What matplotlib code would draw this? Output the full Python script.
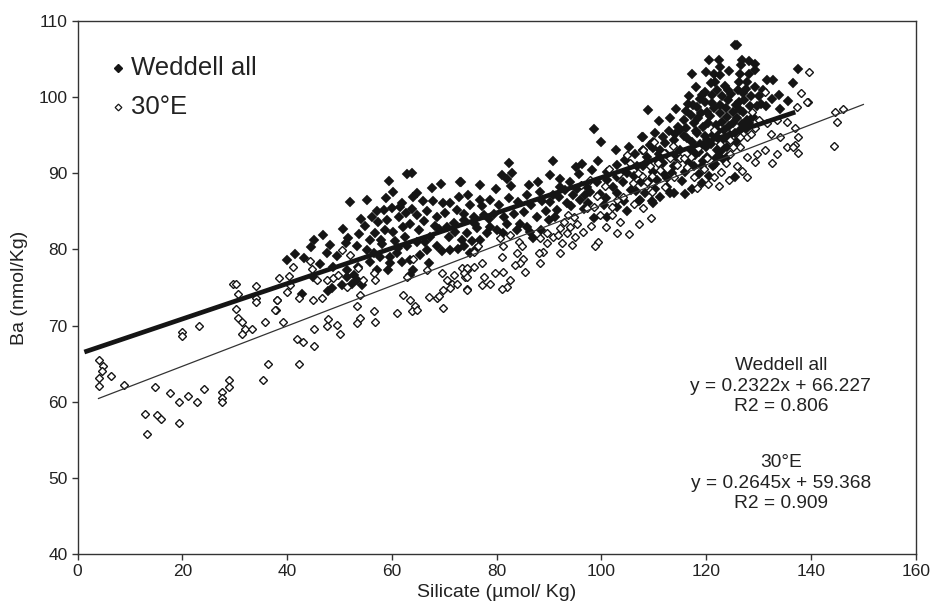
import matplotlib
matplotlib.use("Agg")
import matplotlib.pyplot as plt
import numpy as np

plt.rcParams["font.family"] = ["Liberation Sans", "DejaVu Sans"]

# ---- data (silicate, Ba) ----
WEDDELL_PTS = [
    (40.0, 78.6), (42.8, 74.2), (44.6, 80.3), (45.2, 81.2), (47.6, 79.5), (47.9, 74.6),
    (48.5, 75.0), (51.7, 81.5), (51.3, 80.9), (52.0, 86.2), (54.8, 83.1), (56.7, 82.1),
    (59.5, 89.0), (62.9, 89.9), (63.8, 90.1), (67.7, 88.1), (73.2, 88.8),
    (51.4, 76.4), (52.4, 75.5), (53.3, 76.0), (54.3, 75.3), (50.4, 75.3), (52.7, 76.6),
    (57.1, 85.0), (58.4, 85.2), (60.0, 85.4), (61.6, 85.6), (61.9, 86.1), (59.0, 83.9),
    (58.7, 82.6), (60.3, 82.3), (62.2, 83.0), (63.5, 83.4), (64.8, 84.5), (64.1, 86.9),
    (64.8, 87.4), (66.7, 85.0), (68.6, 84.3), (69.8, 86.1), (71.1, 86.1), (72.4, 85.2),
    (73.7, 83.9), (70.5, 83.0), (72.1, 82.3), (73.4, 81.2), (71.1, 79.9), (68.6, 80.4),
    (66.7, 79.9), (65.4, 79.3), (63.5, 78.6), (64.8, 81.0), (62.9, 80.4), (60.9, 79.5),
    (59.7, 79.0), (57.8, 79.0), (56.5, 79.5), (55.8, 78.4), (59.3, 77.3), (59.7, 78.2),
    (61.9, 78.4), (63.5, 76.6), (64.1, 77.3), (53.3, 80.4), (55.2, 79.9), (53.6, 77.7),
    (51.4, 77.3), (48.8, 77.7), (57.1, 77.3),
    (108.9, 98.3), (98.6, 95.8), (100.0, 94.1), (107.7, 94.8), (109.8, 94.1), (82.3, 91.4),
    (81.0, 89.8), (82.0, 89.2), (82.9, 90.1), (90.7, 91.6), (86.1, 88.5), (90.1, 89.8),
    (92.1, 89.2), (96.3, 91.2), (98.2, 90.4), (101.0, 90.2), (103.0, 91.1), (104.5, 91.8),
    (106.4, 92.6), (107.9, 93.1), (109.9, 93.3), (73.0, 88.9), (76.8, 88.5), (74.9, 85.8),
    (78.8, 86.5), (82.3, 86.7), (85.8, 87.1), (88.3, 87.6), (92.1, 88.2), (94.0, 88.9),
    (95.3, 88.0), (97.2, 88.2), (99.1, 88.9), (101.0, 89.1), (103.0, 89.5), (104.9, 90.0),
    (106.8, 90.9), (108.7, 91.5), (110.6, 91.7), (73.7, 84.7), (75.6, 84.3), (77.5, 84.5),
    (79.5, 84.6), (81.4, 84.3), (83.3, 84.6), (78.8, 83.0), (76.2, 82.8), (74.3, 82.1),
    (76.8, 81.2), (73.7, 80.4), (74.9, 79.5), (81.3, 82.1), (83.9, 82.5), (85.8, 83.0),
    (87.7, 84.3), (89.9, 83.9), (91.5, 85.2), (93.4, 86.1), (96.0, 86.5), (97.5, 86.1),
    (98.5, 84.1), (101.0, 84.3), (104.9, 85.0), (107.1, 86.3), (109.6, 86.3), (103.0, 87.4),
    (87.0, 81.5), (84.5, 83.4), (76.8, 86.5), (96.9, 87.1), (97.9, 87.6),
    (125.4, 106.8), (125.9, 106.8), (120.6, 104.9), (122.4, 104.9), (126.8, 104.9),
    (128.1, 104.7), (129.4, 104.4), (122.7, 104.0), (122.7, 102.9), (117.3, 103.1),
    (126.7, 104.2), (126.5, 103.1), (128.1, 103.1), (129.4, 103.6), (137.6, 103.7),
    (131.6, 102.3), (132.7, 102.3), (136.5, 101.8), (121.7, 102.0), (124.2, 100.9),
    (122.0, 100.9), (126.2, 102.0), (127.1, 100.5), (129.4, 101.4), (119.8, 100.7),
    (118.8, 99.8), (121.1, 100.3), (132.5, 99.8), (133.8, 100.3), (130.0, 100.1),
    (115.7, 97.0), (117.0, 97.7), (117.6, 96.6), (115.0, 95.7), (113.8, 94.4), (111.8, 94.8),
    (108.0, 94.8), (111.2, 93.1), (108.7, 92.2), (108.0, 90.9), (109.9, 90.2), (111.8, 91.3),
    (109.9, 86.1), (113.8, 87.4), (116.0, 87.3), (119.2, 88.7), (117.3, 88.0), (125.5, 89.5),
    (112.5, 88.2), (111.2, 86.9), (113.1, 87.4), (107.4, 86.5),
    (124.0, 97.4), (123.3, 95.7), (125.2, 96.6), (126.5, 95.7), (126.5, 98.3), (127.8, 97.0),
    (120.1, 94.4), (122.0, 94.8), (120.1, 92.2), (122.0, 93.1), (124.0, 93.5), (117.0, 93.1),
    (118.2, 95.3), (115.0, 93.1), (121.3, 90.9), (117.6, 90.9), (113.8, 90.9), (123.3, 91.7),
    (121.1, 99.2), (122.7, 99.0), (120.1, 98.1), (124.1, 99.6), (119.2, 100.3),
    (118.5, 97.2), (119.4, 96.1), (120.8, 97.5), (121.9, 96.3), (122.6, 97.9), (123.8, 98.6),
    (125.1, 98.0), (119.7, 94.9), (121.2, 95.0), (122.9, 94.3), (124.6, 95.0), (125.7, 94.1),
    (118.9, 93.8), (116.4, 94.6), (117.9, 92.4), (119.3, 91.6), (121.8, 92.0), (123.1, 93.0),
    (114.7, 96.1), (116.2, 96.0), (112.9, 95.6), (110.3, 95.3), (109.2, 93.7), (112.4, 92.6),
    (114.3, 92.2), (116.8, 91.4), (118.7, 89.9), (120.5, 89.6), (115.3, 89.0), (110.6, 89.1),
    (126.9, 96.5), (128.3, 98.9), (127.2, 99.6), (123.5, 101.5), (120.9, 101.8), (118.3, 98.7),
    (116.6, 99.1), (114.2, 98.4), (113.1, 97.3), (111.0, 96.9), (124.8, 100.4), (126.0, 101.0),
    (128.6, 100.2), (130.9, 101.0), (119.9, 103.3), (124.3, 103.5), (127.8, 102.0),
    (131.4, 98.9), (134.0, 98.5), (135.6, 99.5),
    (116.1, 98.2), (117.4, 99.0), (118.1, 95.6), (119.0, 97.9), (119.8, 99.4), (120.4, 96.6),
    (121.5, 98.6), (122.3, 95.5), (123.0, 96.8), (123.7, 94.6), (124.4, 96.2), (125.4, 95.3),
    (125.8, 97.3), (126.2, 99.4), (127.0, 98.1), (127.5, 95.8), (128.2, 96.6), (128.9, 97.4),
    (129.6, 98.8), (130.4, 99.1), (118.6, 92.8), (119.9, 93.5), (121.0, 93.9), (122.4, 92.3),
    (123.9, 92.1), (117.2, 94.1), (115.8, 94.9), (114.0, 95.1), (112.2, 94.0), (110.9, 92.5),
    (113.5, 90.1), (115.9, 90.2), (119.1, 91.0), (121.7, 91.2), (116.7, 100.2), (118.0, 101.4),
    (121.4, 103.1), (123.1, 100.2), (125.6, 99.0), (127.6, 101.1),
    (54.1, 84.0), (55.9, 81.2), (57.4, 83.6), (58.2, 80.7), (60.6, 81.1), (61.4, 84.2),
    (62.5, 81.7), (63.9, 85.3), (65.2, 82.5), (66.1, 83.8), (67.3, 81.6), (67.9, 86.4),
    (68.9, 82.7), (69.6, 79.8), (70.2, 84.8), (71.8, 83.5), (72.9, 86.9), (74.6, 87.2),
    (75.9, 83.4), (77.2, 85.7), (78.1, 82.2), (79.9, 88.0), (80.4, 85.9), (81.9, 83.3),
    (82.8, 88.3), (84.1, 86.2), (85.2, 84.9), (86.6, 85.8), (87.9, 88.9), (88.7, 86.3),
    (89.4, 85.1), (90.8, 87.2), (91.9, 86.9), (93.1, 87.8), (94.6, 87.1), (95.8, 89.9),
    (96.7, 85.3), (99.7, 87.3), (100.4, 85.9), (102.3, 88.2), (102.9, 85.6), (104.1, 88.8),
    (105.7, 87.8), (106.2, 89.6), (107.6, 88.9), (108.3, 87.4), (109.1, 89.0), (110.2, 88.0),
    (111.7, 90.0), (112.6, 89.4),
    (41.5, 79.4), (43.3, 78.9), (44.9, 76.4), (46.3, 78.1), (46.9, 81.9), (48.2, 80.6),
    (49.6, 79.1), (50.6, 82.7), (53.8, 82.0), (55.3, 86.5), (56.2, 84.3), (57.9, 81.3),
    (58.8, 86.7), (60.2, 87.5), (61.1, 80.2), (62.7, 84.8), (65.9, 86.4), (66.3, 81.0),
    (67.1, 78.2), (68.2, 83.1), (69.3, 88.6), (70.9, 81.6), (72.6, 80.0), (75.3, 81.1),
    (76.1, 80.1), (78.5, 84.0), (80.1, 82.5), (86.4, 82.3), (88.5, 82.6), (90.2, 86.2),
    (91.2, 84.2), (94.2, 85.7), (95.1, 90.8), (99.4, 91.6), (100.8, 86.7), (102.7, 93.0),
    (104.3, 86.3), (105.3, 93.5), (106.6, 87.7),
]

E30_PTS = [
    (4.05, 65.5), (4.87, 64.7), (4.68, 64.0), (4.05, 63.1), (4.05, 62.1), (6.46, 63.4),
    (8.9, 62.2), (14.7, 61.9), (12.95, 58.4), (13.3, 55.8), (15.2, 58.2), (16.0, 57.7),
    (17.7, 61.2), (19.4, 60.0), (19.4, 57.2), (21.1, 60.7), (22.8, 60.0), (24.2, 61.7),
    (20.0, 69.2), (20.0, 68.6), (23.1, 69.9), (27.6, 61.3), (27.6, 60.5), (27.6, 60.0),
    (28.9, 62.8), (28.9, 61.9), (29.6, 75.5), (30.3, 75.5), (30.6, 74.1), (30.3, 72.2),
    (30.6, 71.0), (31.3, 70.5), (31.9, 69.6), (33.3, 69.6), (31.3, 68.9), (34.0, 75.2),
    (34.0, 73.6), (34.0, 73.1), (35.7, 70.5), (36.4, 64.9), (35.4, 62.8), (37.8, 72.0),
    (38.1, 73.4),
    (44.3, 78.5), (41.2, 77.7), (38.5, 76.2), (40.3, 76.5), (40.6, 75.3), (38.0, 73.4),
    (37.7, 72.0), (39.2, 70.5), (39.9, 74.4), (42.2, 73.6), (45.0, 73.4), (46.6, 73.6),
    (44.7, 77.4), (45.7, 76.0), (47.6, 76.0), (48.8, 76.2), (49.8, 76.6), (50.4, 79.9),
    (52.0, 79.3), (53.6, 77.5), (54.5, 76.0), (56.5, 76.9), (56.8, 76.0), (53.9, 74.0),
    (53.4, 72.6), (53.9, 71.0), (53.4, 70.3), (56.5, 71.9), (56.8, 70.5), (60.9, 71.7),
    (62.2, 74.0), (63.5, 73.3), (64.4, 72.6), (63.8, 71.9), (64.8, 72.1), (67.0, 73.8),
    (68.6, 73.6), (69.7, 72.3), (47.9, 70.9), (49.5, 70.1), (50.1, 68.9), (45.2, 69.6),
    (47.6, 69.9), (41.9, 68.2), (43.1, 67.9), (45.2, 67.3), (42.2, 65.0), (51.4, 75.1),
    (66.7, 77.3), (69.5, 76.9), (70.5, 76.0), (71.4, 75.5), (71.1, 74.9), (72.4, 75.5),
    (71.8, 76.6), (73.4, 77.5), (74.3, 77.3), (73.9, 76.4), (74.4, 74.8), (69.8, 74.7),
    (68.9, 73.9), (64.1, 78.8), (62.9, 76.4),
    (107.7, 93.1), (105.5, 91.3), (107.7, 89.6), (108.7, 88.9), (109.6, 89.6), (109.3, 87.8),
    (106.1, 88.7), (104.2, 86.9), (103.0, 86.5), (102.0, 85.6), (103.0, 82.2), (105.2, 82.0),
    (99.4, 81.0), (98.8, 80.4), (103.6, 83.6), (99.8, 84.5), (102.0, 84.5), (97.2, 85.4),
    (98.5, 85.6), (94.7, 84.3), (95.3, 83.4), (94.0, 83.0), (95.0, 81.7), (93.4, 82.1),
    (94.4, 80.6), (92.4, 80.8), (92.1, 79.5), (89.6, 82.1), (90.8, 81.7), (88.3, 81.5),
    (89.6, 80.8), (88.9, 79.7), (88.0, 79.5), (88.3, 78.2), (92.1, 82.8), (92.8, 83.6),
    (93.7, 84.5), (91.8, 81.9), (82.6, 81.9), (84.2, 81.0), (84.8, 80.4), (83.9, 79.5),
    (85.1, 78.8), (84.5, 78.2), (85.4, 77.1), (83.5, 78.0), (81.0, 79.0), (81.3, 80.4),
    (80.7, 81.5), (79.7, 76.9), (81.3, 77.1), (82.6, 76.0), (81.9, 75.1), (77.2, 78.2),
    (75.6, 77.7), (74.3, 77.5), (73.7, 76.9), (74.3, 76.4), (77.5, 76.4), (77.2, 75.3),
    (78.8, 75.5), (74.3, 74.7), (81.0, 74.8), (75.6, 79.7), (76.5, 80.4),
    (139.7, 103.3), (138.0, 100.6), (139.4, 99.3), (137.4, 98.7), (131.3, 100.7),
    (128.7, 98.1), (130.0, 97.0), (129.4, 95.9), (131.6, 96.6), (133.5, 97.0), (135.4, 96.8),
    (137.0, 96.0), (137.6, 94.8), (137.0, 93.7), (137.6, 92.7), (135.4, 93.5), (133.5, 92.6),
    (132.5, 91.3), (131.3, 93.1), (129.7, 92.6), (129.4, 91.5), (127.8, 92.2), (126.5, 93.5),
    (125.2, 93.5), (124.6, 94.4), (127.8, 94.8), (126.5, 94.8), (128.5, 95.2), (132.3, 95.2),
    (134.1, 94.8), (127.8, 89.5), (122.4, 88.3), (108.0, 93.1), (109.3, 90.9), (109.6, 87.6),
    (112.2, 88.2), (121.4, 95.7), (122.7, 93.9), (124.6, 92.6), (117.0, 92.2), (115.0, 92.0),
    (120.1, 92.0), (113.8, 89.5), (111.2, 90.4), (117.6, 89.5), (121.4, 89.5), (122.9, 90.2),
    (115.7, 92.0), (113.1, 92.0), (144.5, 98.1), (146.1, 98.5), (145.0, 96.7), (144.4, 93.6),
    (139.2, 99.3), (136.6, 93.5),
    (96.1, 88.4), (97.8, 89.1), (99.2, 87.0), (100.6, 88.3), (101.5, 90.6), (103.4, 89.9),
    (104.8, 92.4), (106.9, 90.1), (110.8, 91.4), (111.9, 92.7), (113.6, 93.6), (110.1, 94.1),
    (98.0, 83.1), (100.9, 82.9), (96.5, 82.3), (106.3, 86.0), (107.9, 85.4),
    (118.5, 93.3), (119.6, 90.6), (116.3, 90.8), (114.4, 91.1), (123.8, 91.3), (125.9, 91.0),
    (126.8, 90.3), (124.3, 89.1), (120.3, 88.6), (118.2, 88.1), (107.2, 83.4), (109.4, 84.1),
]

# linear fits as printed on the chart
WEDDELL_FIT = (0.2322, 66.227, 0.806)
E30_FIT = (0.2645, 59.368, 0.909)
WEDDELL_FIT_RANGE = (1.3, 137.0)
E30_FIT_RANGE = (4.0, 150.0)

wx, wy = np.array(WEDDELL_PTS).T
ex, ey = np.array(E30_PTS).T

fig = plt.figure(figsize=(9.32, 6.13), dpi=100)
ax = fig.add_axes([0.0832, 0.0962, 0.8994, 0.8695])

ax.plot(wx, wy, "D", ms=4.9, color="#151515", mec="#151515", mew=0.3, ls="none", zorder=2)
ax.plot(ex, ey, "D", ms=3.9, mfc="white", mec="#151515", mew=1.0, ls="none", zorder=3)

xs = np.array(WEDDELL_FIT_RANGE)
ax.plot(xs, WEDDELL_FIT[0] * xs + WEDDELL_FIT[1], color="#151515", lw=3.4,
        solid_capstyle="butt", zorder=4)
xs = np.array(E30_FIT_RANGE)
ax.plot(xs, E30_FIT[0] * xs + E30_FIT[1], color="#333333", lw=0.9, zorder=4)

ax.set_xlim(0, 160)
ax.set_ylim(40, 110)
ax.set_xticks(np.arange(0, 161, 20))
ax.set_yticks(np.arange(40, 111, 10))
for sp in ax.spines.values():
    sp.set_color("#333333")
    sp.set_linewidth(1.0)
ax.tick_params(direction="out", length=4, width=1.0, color="#333333",
               labelsize=12.5, labelcolor="#222222", pad=3)
ax.set_xlabel("Silicate (\u00b5mol/ Kg)", fontsize=14, color="#222222", labelpad=4)
ax.set_ylabel("Ba (nmol/Kg)", fontsize=14, color="#222222", labelpad=8)

# legend drawn by hand (no frame)
ax.plot([0.0483], [0.912], "D", ms=3.6, color="#151515", transform=ax.transAxes)
ax.plot([0.0483], [0.8386], "D", ms=3.4, mfc="white", mec="#151515", mew=0.9,
        transform=ax.transAxes)
ax.text(0.0638, 0.912, "Weddell all", transform=ax.transAxes, fontsize=18.5,
        va="center", ha="left", color="#222222")
ax.text(0.0638, 0.8386, "30\u00b0E", transform=ax.transAxes, fontsize=18.5,
        va="center", ha="left", color="#222222")

ax.text(0.839, 0.315,
        f"Weddell all\ny = {WEDDELL_FIT[0]}x + {WEDDELL_FIT[1]}\nR2 = {WEDDELL_FIT[2]}",
        transform=ax.transAxes, fontsize=13.8, ha="center", va="center",
        linespacing=1.25, color="#222222")
ax.text(0.839, 0.133,
        f"30\u00b0E\ny = {E30_FIT[0]}x + {E30_FIT[1]}\nR2 = {E30_FIT[2]}",
        transform=ax.transAxes, fontsize=13.8, ha="center", va="center",
        linespacing=1.25, color="#222222")

fig.savefig("out.png", dpi=100)
